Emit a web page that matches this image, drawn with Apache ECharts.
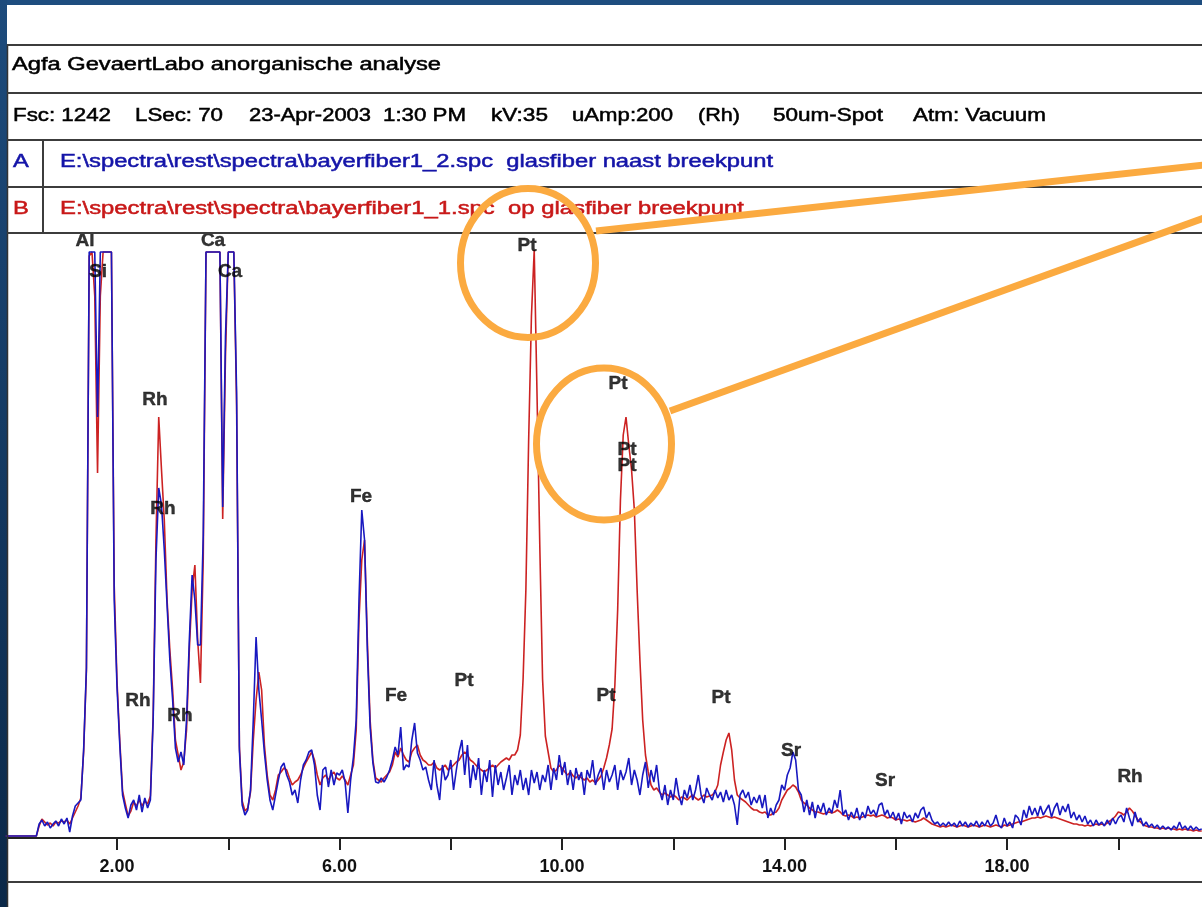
<!DOCTYPE html>
<html>
<head>
<meta charset="utf-8">
<script src="https://cdn.jsdelivr.net/npm/echarts@6/dist/echarts.min.js"></script>
<style>
html,body{margin:0;padding:0;background:#fff;}
#c{width:1202px;height:907px;}
</style>
</head>
<body>
<div id="c"></div>
<script>
// ---- Data (counts per channel, channel width 0.05 keV starting at 0 keV) ----
const CH_STEP = 0.05;
// Spectrum A (blue): bayerfiber1_2.spc glasfiber naast breekpunt
const SPEC_A = [
0,0,0,0,0,0,0,0,0,0,0,0,
12,16,10,14,8,12,15,10,17,12,18,4,20,30,33,
36,86,168,584,584,584,419,584,584,584,
584,584,236,149,91,41,28,18,31,36,
26,41,24,38,28,36,116,276,348,331,
286,231,176,136,88,74,84,71,116,196,
261,236,191,191,300,584,584,584,584,584,
584,329,500,584,584,584,443,86,31,21,
26,46,116,199,146,116,83,56,36,26,
41,56,69,73,61,54,41,46,33,56,
71,76,84,86,71,41,26,66,69,49,
66,51,63,61,66,54,23,56,79,116,
236,326,296,186,109,73,54,53,58,54,
59,66,76,89,81,109,66,71,69,96,
113,83,76,66,69,56,
46,76,51,36,71,56,61,76,46,66,84,96,61,91,48,71,56,78,41,66,54,76,39,71,51,64,46,58,71,41,61,
51,66,46,58,41,66,53,64,46,61,54,71,46,
68,56,81,61,74,51,66,46,68,56,64,41,66,58,76,51,61,68,46,66,54,61,71,46,66,56,64,78,51,66,56,41,61,74,48,66,
54,71,46,36,51,31,46,36,58,41,31,46,38,51,36,46,61,41,33,48,41,36,46,
38,44,34,46,36,41,31,11,41,46,38,44,31,39,33,41,28,41,18,28,21,31,36,51,
46,61,68,84,76,46,41,
24,36,21,34,18,31,24,33,21,28,23,36,28,46,21,26,16,24,18,28,16,24,18,
30,22,26,20,31,33,21,26,18,24,16,23,12,24,18,21,14,23,18,26,29,
18,24,16,12,14,10,13,10,14,10,13,9,15,10,14,9,13,10,15,9,14,10,16,10,13,21,11,8,18,10,14,8,21,18,
11,26,18,30,21,28,20,30,21,26,31,19,28,33,21,30,24,32,18,24,16,21,14,20,12,16,10,16,11,14,10,16,11,18,12,
18,21,14,28,18,10,24,14,18,10,14,9,12,8,11,7,10,7,9,6,10,7,14,7,10,6,10,6,9,6,7
];
// Spectrum B (red): bayerfiber1_1.spc op glasfiber breekpunt
const SPEC_B = [
0,0,0,0,0,0,0,0,0,0,0,0,
10,17,14,11,13,10,14,13,15,14,16,12,18,24,30,
38,84,165,580,584,540,363,540,584,584,
584,584,250,155,95,45,32,20,25,34,
30,36,30,35,32,40,120,296,419,366,
316,236,186,146,96,81,66,74,106,186,
246,271,196,153,276,584,584,584,584,584,
584,317,480,584,584,584,430,90,35,25,
28,44,96,136,164,146,91,61,41,36,
46,61,64,68,66,58,51,54,56,61,
68,74,79,84,76,61,51,58,61,56,
61,64,58,56,60,56,51,61,71,106,
216,276,296,196,116,76,58,56,54,58,
61,64,71,84,79,88,81,76,74,84,
88,91,81,76,74,71,
71,74,68,66,68,71,66,68,71,74,76,81,84,81,76,74,71,68,66,64,66,68,71,68,71,74,76,78,76,81,81,
86,101,157,246,396,520,586,443,291,157,100,84,68,
64,66,71,68,64,61,64,60,58,61,58,56,58,54,56,53,56,60,68,78,91,107,151,226,336,401,419,391,366,326,246,176,116,81,64,51,
46,48,44,41,43,41,39,41,39,36,39,38,36,39,41,38,36,38,41,39,40,41,44,
51,71,84,96,103,86,56,41,38,36,34,31,28,26,26,24,23,24,21,21,23,24,28,36,
41,46,48,51,49,44,36,
33,31,28,26,24,24,23,22,23,24,23,24,26,24,21,20,21,20,18,19,18,19,20,
21,20,21,19,20,21,20,18,19,18,16,17,16,16,15,16,15,14,15,16,18,
16,14,12,11,10,9,10,9,10,11,10,9,10,11,10,9,10,11,10,9,10,11,10,9,10,11,10,9,11,10,11,12,13,14,
14,15,16,17,18,18,19,18,19,20,19,18,19,18,17,16,15,14,13,12,12,11,11,10,11,10,11,12,11,12,11,13,15,17,20,
24,23,21,24,28,25,21,16,14,11,10,9,9,8,8,7,8,7,8,7,7,6,7,6,7,6,6,5,6,5,5
];
// Element line labels: [energy keV, height, text]
const PEAK_LABELS = [
[1.425,595,'Al'],[1.658,564,'Si'],[3.726,595,'Ca'],[4.032,564,'Ca'],
[2.683,436,'Rh'],[2.827,327,'Rh'],[6.387,339,'Fe'],[2.377,135,'Rh'],
[3.133,120,'Rh'],[7.016,140,'Fe'],[8.238,155,'Pt'],[9.371,590,'Pt'],
[11.007,452,'Pt'],[11.169,386,'Pt'],[11.169,370,'Pt'],[10.791,140,'Pt'],
[12.859,138,'Pt'],[14.117,85,'Sr'],[15.807,55,'Sr'],[20.211,59,'Rh']
];
const TICK_VALUES = [2,4,6,8,10,12,14,16,18,20];
const TICK_LABEL_VALUES = [2,6,10,14,18];
const X_MIN = 0, X_MAX = 21.5;

// header texts: [text, left x, right x]
const TITLE = 'Agfa GevaertLabo anorganische analyse';
const INFO = [['Fsc: 1242',13,111],['LSec: 70',135,223],['23-Apr-2003',249,371],['1:30 PM',383,466],
  ['kV:35',491,548],['uAmp:200',572,673],['(Rh)',698,740],['50um-Spot',773,883],['Atm: Vacuum',913,1046]];
const FILE_A = 'E:\\spectra\\rest\\spectra\\bayerfiber1_2.spc  glasfiber naast breekpunt';
const FILE_B = 'E:\\spectra\\rest\\spectra\\bayerfiber1_1.spc  op glasfiber breekpunt';

const FONT_FAMILY = '"Liberation Sans", Arial, sans-serif';
const HDR_FONT = 'normal 18px ' + FONT_FAMILY;
const mctx = document.createElement('canvas').getContext('2d');
mctx.font = HDR_FONT;
const HDR_SCALE = (441 - 12) / mctx.measureText(TITLE).width;
function hdrText(text, x0, y, color, x1) {
  let sx = HDR_SCALE;
  if (x1 !== undefined) { sx = (x1 - x0) / mctx.measureText(text).width; }
  return { type:'text', x:x0, y:y, scaleX:sx, z:20,
    style:{ text:text, font:HDR_FONT, fill:color, stroke:color, lineWidth:0.5,
      textAlign:'left', textVerticalAlign:'middle' } };
}

const toData = arr => arr.map((v,i)=>[+(i*CH_STEP).toFixed(2), v]);

const chart = echarts.init(document.getElementById('c'), null, {renderer:'canvas'});
const HDR_LINE = '#3c3c3c';
const hline = (y, x1, x2, w) => ({type:'line', z:15, shape:{x1:x1, y1:y, x2:x2, y2:y}, style:{stroke:HDR_LINE, lineWidth:w||2}});
const BLUE_TXT = '#1414a8', RED_TXT = '#c81818', ORANGE = '#fbaa40';
const graphics = [
  {type:'rect', z:1, shape:{x:0,y:0,width:1202,height:5}, style:{fill:'#1e4d7f'}},
  {type:'rect', z:1, shape:{x:0,y:0,width:7,height:907},
    style:{fill:new echarts.graphic.LinearGradient(0,0,0,1,[{offset:0,color:'#1d4b7c'},{offset:1,color:'#0b2848'}])}},
  {type:'line', z:15, shape:{x1:7.5,y1:44,x2:7.5,y2:907}, style:{stroke:'#333',lineWidth:1.5}},
  hline(45,7,1202), hline(93,7,1202), hline(140,7,1202), hline(187,7,1202), hline(233,7,1202),
  {type:'line', z:15, shape:{x1:43,y1:140,x2:43,y2:233}, style:{stroke:HDR_LINE,lineWidth:2}},
  hline(882,7,1202),
  hdrText(TITLE, 12, 65, '#000'),
  ...INFO.map(s => hdrText(s[0], s[1], 116, '#000', s[2])),
  hdrText('A', 13, 162, BLUE_TXT),
  hdrText(FILE_A, 60, 162, BLUE_TXT, 773),
  hdrText('B', 13, 209, RED_TXT),
  hdrText(FILE_B, 60, 209, RED_TXT, 744),
  {type:'ellipse', z:50, shape:{cx:528,cy:263,rx:67.5,ry:74.5}, style:{fill:null, stroke:ORANGE, lineWidth:7}},
  {type:'ellipse', z:50, shape:{cx:604,cy:444,rx:67.5,ry:76}, style:{fill:null, stroke:ORANGE, lineWidth:7}},
  {type:'line', z:50, shape:{x1:596,y1:231,x2:1204,y2:165}, style:{stroke:ORANGE, lineWidth:7}},
  {type:'line', z:50, shape:{x1:670,y1:411,x2:1204,y2:218}, style:{stroke:ORANGE, lineWidth:7}}
];

chart.setOption({
  animation:false,
  backgroundColor:'#ffffff',
  grid:{left:5.75, right:0.25, top:233, bottom:69, containLabel:false},
  xAxis:{type:'value', min:X_MIN, max:X_MAX,
    axisLine:{show:true, onZero:false, lineStyle:{color:'#222', width:2}},
    axisTick:{show:true, inside:false, length:12, customValues:TICK_VALUES, lineStyle:{color:'#222', width:2}},
    splitLine:{show:false},
    axisLabel:{margin:20, color:'#111', fontFamily:FONT_FAMILY, fontSize:18, fontWeight:'bold',
      customValues:TICK_LABEL_VALUES, formatter:v => v.toFixed(2)}},
  yAxis:{type:'value', min:-2, max:603, show:false, splitLine:{show:false}},
  graphic:graphics,
  series:[
    {name:'B', type:'line', data:toData(SPEC_B), showSymbol:false, symbol:'none', z:3,
      lineStyle:{color:'#cc2222', width:1.6}, clip:true},
    {name:'A', type:'line', data:toData(SPEC_A), showSymbol:false, symbol:'none', z:4,
      lineStyle:{color:'#1818c0', width:1.6}, clip:true},
    {name:'labels', type:'scatter', z:6, symbol:'circle', symbolSize:0, itemStyle:{color:'#000'},
      data:PEAK_LABELS.map(d=>({value:[d[0],d[1]], name:d[2]})),
      label:{show:true, position:'inside', formatter:p=>p.name, color:'#000',
        textBorderColor:'#000', textBorderWidth:0.4,
        fontFamily:FONT_FAMILY, fontSize:19, fontWeight:'bold'}}
  ]
});
</script>
</body>
</html>
